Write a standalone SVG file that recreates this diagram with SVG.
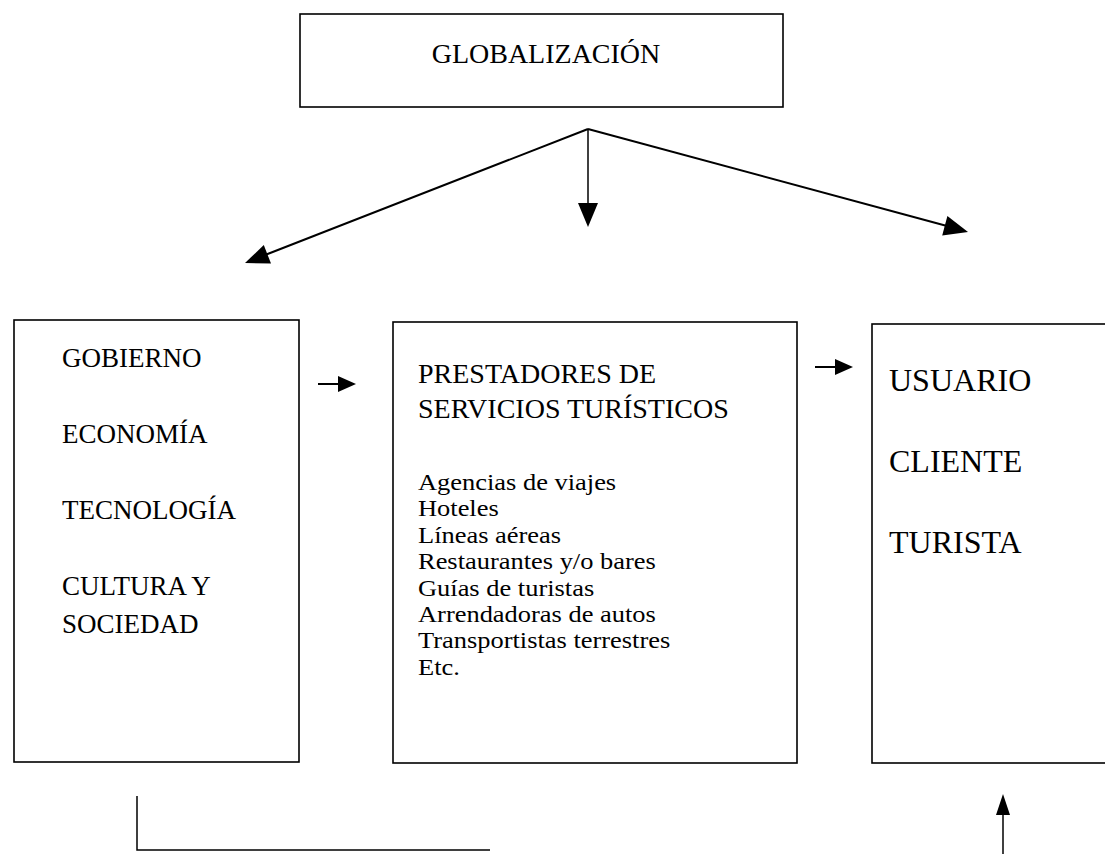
<svg xmlns="http://www.w3.org/2000/svg" width="1105" height="854" viewBox="0 0 1105 854">
<style>
.box{fill:#fff;stroke:#000;stroke-width:1.6}
.t{font-family:"Liberation Serif","Times New Roman",serif;fill:#000}
.li{font-family:"Liberation Serif","Times New Roman",serif;fill:#000;font-size:23px}
.ln{fill:none;stroke:#000;stroke-width:2}
.thin{fill:none;stroke:#000;stroke-width:1.5}
.head{fill:#000}
</style>
<rect width="1105" height="854" fill="#fff"/>
<g id="globalizacion">
<rect class="box" x="300" y="14" width="483" height="93"/>
<text class="t" x="546" y="63" font-size="28" text-anchor="middle">GLOBALIZACIÓN</text>
</g>
<g id="factores">
<rect class="box" x="14" y="320" width="285" height="442"/>
<text class="t" x="62" y="367" font-size="27">GOBIERNO</text>
<text class="t" x="62" y="443" font-size="27">ECONOMÍA</text>
<text class="t" x="62" y="519" font-size="27">TECNOLOGÍA</text>
<text class="t" x="62" y="595" font-size="27">CULTURA Y</text>
<text class="t" x="62" y="633" font-size="27">SOCIEDAD</text>
</g>
<g id="prestadores">
<rect class="box" x="393" y="322" width="404" height="441"/>
<text class="t" x="418" y="383" font-size="28">PRESTADORES DE</text>
<text class="t" x="418" y="418" font-size="28">SERVICIOS TURÍSTICOS</text>
<g transform="translate(418,0) scale(1.15,1)">
<text class="li" x="0" y="490">Agencias de viajes</text>
<text class="li" x="0" y="516.4">Hoteles</text>
<text class="li" x="0" y="542.8">Líneas aéreas</text>
<text class="li" x="0" y="569.2">Restaurantes y/o bares</text>
<text class="li" x="0" y="595.6">Guías de turistas</text>
<text class="li" x="0" y="622">Arrendadoras de autos</text>
<text class="li" x="0" y="648.4">Transportistas terrestres</text>
<text class="li" x="0" y="674.8">Etc.</text>
</g>
</g>
<g id="usuario">
<rect class="box" x="872" y="324" width="240" height="439"/>
<text class="t" x="889" y="391" font-size="32">USUARIO</text>
<text class="t" x="889" y="472" font-size="32">CLIENTE</text>
<text class="t" x="889" y="553" font-size="32">TURISTA</text>
</g>
<g id="connectors">
<line class="ln" x1="588" y1="129" x2="265" y2="255"/>
<path class="head" d="M245,263 L271,263.6 L263.8,245 z"/>
<line class="thin" x1="588" y1="129" x2="588" y2="206"/>
<path class="head" d="M578,203 L598,203 L588,227 z"/>
<line class="ln" x1="588" y1="129" x2="947" y2="226"/>
<path class="head" d="M968,232 L942.2,235.4 L947.4,216 z"/>
<line class="ln" x1="318" y1="384" x2="340" y2="384"/>
<path class="head" d="M338,376 L356,384 L338,392 z"/>
<line class="ln" x1="815" y1="367" x2="837" y2="367"/>
<path class="head" d="M835,359 L853,367 L835,375 z"/>
<polyline class="thin" points="137,796 137,850 490,850"/>
<line class="thin" x1="1003" y1="854" x2="1003" y2="812"/>
<path class="head" d="M996,815 L1010,815 L1003,794 z"/>
</g>
</svg>
